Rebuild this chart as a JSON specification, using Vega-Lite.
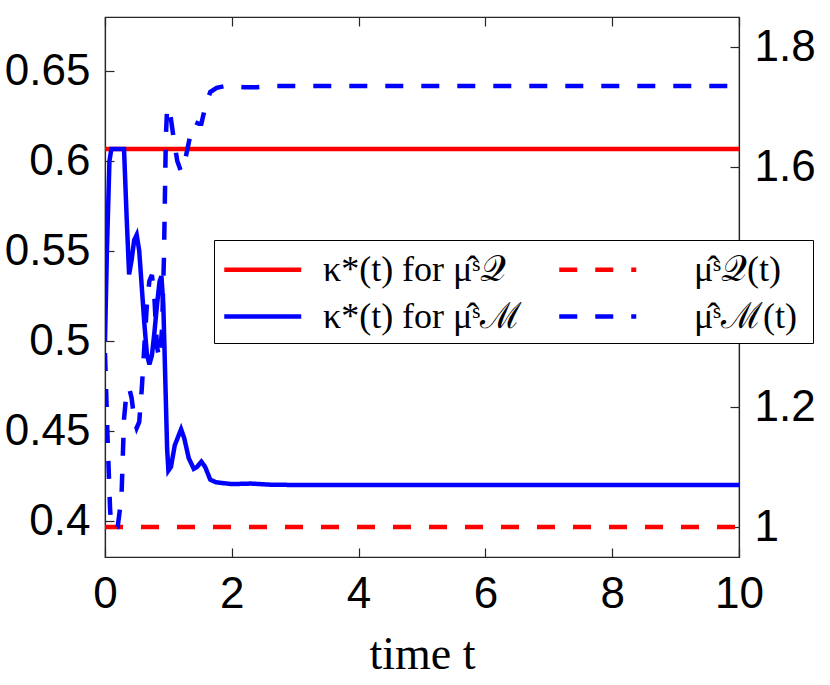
{
  "$schema": "https://vega.github.io/schema/vega-lite/v6.json",
  "width": 634,
  "height": 540,
  "autosize": "none",
  "padding": {"left": 105, "top": 17, "right": 91, "bottom": 128},
  "background": "white",
  "config": {
    "view": {"stroke": "#262626", "strokeWidth": 1.2},
    "axis": {
      "grid": false,
      "labelFont": "Liberation Sans",
      "labelFontSize": 44,
      "labelColor": "black",
      "labelFlush": false,
      "domainColor": "#262626",
      "tickColor": "#262626",
      "tickSize": -9,
      "tickWidth": 1.2,
      "domainWidth": 1.2
    }
  },
  "datasets": {
    "kappa": [
      {"t": 0, "kappa": 0.6066, "series": "κ*(t) for μ̂ˢ𝒬"},
      {"t": 10, "kappa": 0.6066, "series": "κ*(t) for μ̂ˢ𝒬"},
      {"t": 0, "kappa": 0.5, "series": "κ*(t) for μ̂ˢℳ"},
      {"t": 0.03, "kappa": 0.55, "series": "κ*(t) for μ̂ˢℳ"},
      {"t": 0.07, "kappa": 0.6, "series": "κ*(t) for μ̂ˢℳ"},
      {"t": 0.1, "kappa": 0.6066, "series": "κ*(t) for μ̂ˢℳ"},
      {"t": 0.3, "kappa": 0.6066, "series": "κ*(t) for μ̂ˢℳ"},
      {"t": 0.34, "kappa": 0.57, "series": "κ*(t) for μ̂ˢℳ"},
      {"t": 0.38, "kappa": 0.537, "series": "κ*(t) for μ̂ˢℳ"},
      {"t": 0.42, "kappa": 0.545, "series": "κ*(t) for μ̂ˢℳ"},
      {"t": 0.46, "kappa": 0.556, "series": "κ*(t) for μ̂ˢℳ"},
      {"t": 0.5, "kappa": 0.559, "series": "κ*(t) for μ̂ˢℳ"},
      {"t": 0.54, "kappa": 0.55, "series": "κ*(t) for μ̂ˢℳ"},
      {"t": 0.58, "kappa": 0.53, "series": "κ*(t) for μ̂ˢℳ"},
      {"t": 0.62, "kappa": 0.51, "series": "κ*(t) for μ̂ˢℳ"},
      {"t": 0.66, "kappa": 0.493, "series": "κ*(t) for μ̂ˢℳ"},
      {"t": 0.7, "kappa": 0.487, "series": "κ*(t) for μ̂ˢℳ"},
      {"t": 0.74, "kappa": 0.492, "series": "κ*(t) for μ̂ˢℳ"},
      {"t": 0.78, "kappa": 0.505, "series": "κ*(t) for μ̂ˢℳ"},
      {"t": 0.82, "kappa": 0.52, "series": "κ*(t) for μ̂ˢℳ"},
      {"t": 0.86, "kappa": 0.533, "series": "κ*(t) for μ̂ˢℳ"},
      {"t": 0.89, "kappa": 0.536, "series": "κ*(t) for μ̂ˢℳ"},
      {"t": 0.92, "kappa": 0.52, "series": "κ*(t) for μ̂ˢℳ"},
      {"t": 0.95, "kappa": 0.48, "series": "κ*(t) for μ̂ˢℳ"},
      {"t": 0.98, "kappa": 0.44, "series": "κ*(t) for μ̂ˢℳ"},
      {"t": 1.0, "kappa": 0.428, "series": "κ*(t) for μ̂ˢℳ"},
      {"t": 1.04, "kappa": 0.43, "series": "κ*(t) for μ̂ˢℳ"},
      {"t": 1.1, "kappa": 0.442, "series": "κ*(t) for μ̂ˢℳ"},
      {"t": 1.2, "kappa": 0.451, "series": "κ*(t) for μ̂ˢℳ"},
      {"t": 1.25, "kappa": 0.446, "series": "κ*(t) for μ̂ˢℳ"},
      {"t": 1.32, "kappa": 0.435, "series": "κ*(t) for μ̂ˢℳ"},
      {"t": 1.4, "kappa": 0.429, "series": "κ*(t) for μ̂ˢℳ"},
      {"t": 1.45, "kappa": 0.43, "series": "κ*(t) for μ̂ˢℳ"},
      {"t": 1.52, "kappa": 0.433, "series": "κ*(t) for μ̂ˢℳ"},
      {"t": 1.58, "kappa": 0.43, "series": "κ*(t) for μ̂ˢℳ"},
      {"t": 1.66, "kappa": 0.423, "series": "κ*(t) for μ̂ˢℳ"},
      {"t": 1.75, "kappa": 0.4215, "series": "κ*(t) for μ̂ˢℳ"},
      {"t": 2.0, "kappa": 0.4205, "series": "κ*(t) for μ̂ˢℳ"},
      {"t": 2.3, "kappa": 0.4208, "series": "κ*(t) for μ̂ˢℳ"},
      {"t": 2.6, "kappa": 0.4202, "series": "κ*(t) for μ̂ˢℳ"},
      {"t": 3.0, "kappa": 0.42, "series": "κ*(t) for μ̂ˢℳ"},
      {"t": 10, "kappa": 0.42, "series": "κ*(t) for μ̂ˢℳ"}
    ],
    "mu": [
      {"t": 0, "mu": 1, "series": "μ̂ˢ𝒬(t)"},
      {"t": 10, "mu": 1, "series": "μ̂ˢ𝒬(t)"},
      {"t": 0, "mu": 1.29, "series": "μ̂ˢℳ(t)"},
      {"t": 0.04, "mu": 1.15, "series": "μ̂ˢℳ(t)"},
      {"t": 0.08, "mu": 1.03, "series": "μ̂ˢℳ(t)"},
      {"t": 0.1, "mu": 1.0, "series": "μ̂ˢℳ(t)"},
      {"t": 0.2, "mu": 1.0, "series": "μ̂ˢℳ(t)"},
      {"t": 0.26, "mu": 1.05, "series": "μ̂ˢℳ(t)"},
      {"t": 0.3, "mu": 1.18, "series": "μ̂ˢℳ(t)"},
      {"t": 0.34, "mu": 1.225, "series": "μ̂ˢℳ(t)"},
      {"t": 0.38, "mu": 1.232, "series": "μ̂ˢℳ(t)"},
      {"t": 0.42, "mu": 1.215, "series": "μ̂ˢℳ(t)"},
      {"t": 0.46, "mu": 1.18, "series": "μ̂ˢℳ(t)"},
      {"t": 0.5, "mu": 1.165, "series": "μ̂ˢℳ(t)"},
      {"t": 0.54, "mu": 1.175, "series": "μ̂ˢℳ(t)"},
      {"t": 0.58, "mu": 1.23, "series": "μ̂ˢℳ(t)"},
      {"t": 0.62, "mu": 1.3, "series": "μ̂ˢℳ(t)"},
      {"t": 0.66, "mu": 1.37, "series": "μ̂ˢℳ(t)"},
      {"t": 0.7, "mu": 1.41, "series": "μ̂ˢℳ(t)"},
      {"t": 0.74, "mu": 1.42, "series": "μ̂ˢℳ(t)"},
      {"t": 0.78, "mu": 1.38, "series": "μ̂ˢℳ(t)"},
      {"t": 0.82, "mu": 1.3, "series": "μ̂ˢℳ(t)"},
      {"t": 0.86, "mu": 1.28, "series": "μ̂ˢℳ(t)"},
      {"t": 0.9, "mu": 1.33, "series": "μ̂ˢℳ(t)"},
      {"t": 0.93, "mu": 1.45, "series": "μ̂ˢℳ(t)"},
      {"t": 0.96, "mu": 1.65, "series": "μ̂ˢℳ(t)"},
      {"t": 0.98, "mu": 1.7, "series": "μ̂ˢℳ(t)"},
      {"t": 1.02, "mu": 1.695, "series": "μ̂ˢℳ(t)"},
      {"t": 1.08, "mu": 1.65, "series": "μ̂ˢℳ(t)"},
      {"t": 1.14, "mu": 1.61, "series": "μ̂ˢℳ(t)"},
      {"t": 1.2, "mu": 1.592, "series": "μ̂ˢℳ(t)"},
      {"t": 1.26, "mu": 1.61, "series": "μ̂ˢℳ(t)"},
      {"t": 1.34, "mu": 1.65, "series": "μ̂ˢℳ(t)"},
      {"t": 1.42, "mu": 1.675, "series": "μ̂ˢℳ(t)"},
      {"t": 1.48, "mu": 1.672, "series": "μ̂ˢℳ(t)"},
      {"t": 1.52, "mu": 1.672, "series": "μ̂ˢℳ(t)"},
      {"t": 1.58, "mu": 1.7, "series": "μ̂ˢℳ(t)"},
      {"t": 1.66, "mu": 1.725, "series": "μ̂ˢℳ(t)"},
      {"t": 1.76, "mu": 1.732, "series": "μ̂ˢℳ(t)"},
      {"t": 1.9, "mu": 1.735, "series": "μ̂ˢℳ(t)"},
      {"t": 2.2, "mu": 1.733, "series": "μ̂ˢℳ(t)"},
      {"t": 2.4, "mu": 1.733, "series": "μ̂ˢℳ(t)"},
      {"t": 2.6, "mu": 1.735, "series": "μ̂ˢℳ(t)"},
      {"t": 10, "mu": 1.735, "series": "μ̂ˢℳ(t)"}
    ]
  },
  "layer": [
    {
      "data": {"name": "kappa"},
      "mark": {"type": "line", "strokeWidth": 4.5, "clip": true},
      "encoding": {
        "x": {
          "field": "t", "type": "quantitative",
          "scale": {"domain": [0, 10], "nice": false},
          "axis": {
            "orient": "bottom",
            "values": [0, 2, 4, 6, 8, 10],
            "labelPadding": 24,
            "title": "time t",
            "titleFont": "Liberation Serif",
            "titleFontSize": 46,
            "titleFontWeight": "normal",
            "titleColor": "black",
            "titlePadding": 16
          }
        },
        "y": {
          "field": "kappa", "type": "quantitative",
          "scale": {"domain": [0.38, 0.68], "nice": false, "zero": false},
          "axis": {"orient": "left", "values": [0.4, 0.45, 0.5, 0.55, 0.6, 0.65], "format": "~g", "labelPadding": 24, "title": null}
        },
        "color": {
          "field": "series", "type": "nominal",
          "scale": {
            "domain": ["κ*(t) for μ̂ˢ𝒬", "μ̂ˢ𝒬(t)", "κ*(t) for μ̂ˢℳ", "μ̂ˢℳ(t)"],
            "range": ["#ff0000", "#ff0000", "#0000ff", "#0000ff"]
          },
          "legend": {
            "title": null,
            "orient": "none",
            "legendX": 109,
            "legendY": 223,
            "direction": "horizontal",
            "columns": 2,
            "fillColor": "white",
            "strokeColor": "black",
            "padding": 8,
            "symbolType": "M-1,0H3",
            "symbolSize": 1482,
            "symbolStrokeWidth": 4.5,
            "labelFont": "Liberation Serif",
            "labelFontSize": 36,
            "labelColor": "black",
            "labelOffset": 58,
            "labelLimit": 400,
            "labelExpr": "indexof(datum.label, 'for') < 0 ? '\u200b\u2002\u2002' + datum.label + '\u2009\u200b' : datum.label",
            "columnPadding": 27,
            "rowPadding": 7
          }
        },
        "strokeDash": {
          "field": "series", "type": "nominal",
          "scale": {
            "domain": ["κ*(t) for μ̂ˢ𝒬", "μ̂ˢ𝒬(t)", "κ*(t) for μ̂ˢℳ", "μ̂ˢℳ(t)"],
            "range": [[1, 0], [18, 18], [1, 0], [18, 18]]
          }
        }
      }
    },
    {
      "data": {"name": "mu"},
      "mark": {"type": "line", "strokeWidth": 4.5, "clip": true},
      "encoding": {
        "x": {
          "field": "t", "type": "quantitative",
          "axis": {"orient": "top", "values": [0, 2, 4, 6, 8, 10], "labels": false, "domain": false, "title": null}
        },
        "y": {
          "field": "mu", "type": "quantitative",
          "scale": {"domain": [0.95, 1.85], "nice": false, "zero": false},
          "axis": {
            "orient": "right",
            "values": [1, 1.2, 1.4, 1.6, 1.8],
            "format": "~g",
            "labelExpr": "abs(datum.value - 1.4) < 0.01 ? '' : datum.label",
            "labelPadding": 24,
            "title": null
          }
        },
        "color": {"field": "series", "type": "nominal"},
        "strokeDash": {"field": "series", "type": "nominal"}
      }
    }
  ],
  "resolve": {"scale": {"y": "independent"}, "axis": {"x": "independent"}}
}
